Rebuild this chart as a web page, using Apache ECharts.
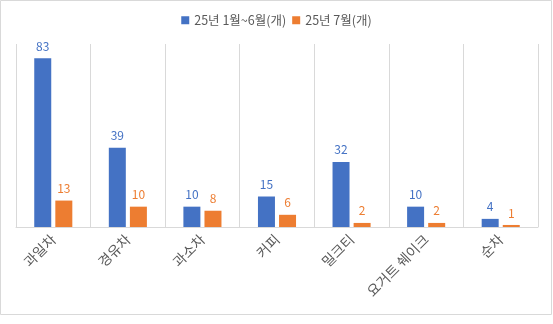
<!DOCTYPE html>
<html><head><meta charset="utf-8">
<script src="https://cdn.jsdelivr.net/npm/echarts@6/dist/echarts.min.js"></script>
<style>html,body{margin:0;padding:0;background:#fff}#c{width:553px;height:324px}</style>
</head><body><div id="c"></div>
<script>
const categories = ['과일차','경유차','과소차','커피','밀크티','요거트 쉐이크','순차'];
const seriesNames = ['25년 1월~6월(개)','25년 7월(개)'];
const valuesH1 = [83,39,10,15,32,10,4];
const valuesJul = [13,10,8,6,2,2,1];
const colors = ['#4472C4','#ED7D31'];
const font = '"Noto Sans CJK KR", "Noto Sans", sans-serif';
const chart = echarts.init(document.getElementById('c'));
chart.setOption({
  animation:false,
  textStyle:{fontFamily:font},
  graphic:[{type:'rect',shape:{x:0.5,y:0.5,width:551,height:314},style:{fill:'none',stroke:'#d9d9d9',lineWidth:1}}],
  legend:{top:9,left:'center',itemWidth:8,itemHeight:8,itemGap:6,icon:'rect',
    textStyle:{color:'#595959',fontSize:12.5,fontFamily:font},data:seriesNames},
  grid:{left:16,right:15,top:44,bottom:97,containLabel:false},
  xAxis:{type:'category',data:categories,boundaryGap:true,
    axisLine:{lineStyle:{color:'#d9d9d9'}},axisTick:{show:false},
    splitLine:{show:true,lineStyle:{color:'#d9d9d9'}},
    axisLabel:{rotate:45,interval:0,color:'#595959',fontSize:14,margin:10,fontFamily:font}},
  yAxis:{type:'value',min:0,max:90,show:false,splitLine:{show:false}},
  series:[
    {name:seriesNames[0],type:'bar',data:valuesH1,barWidth:17,barGap:'24%',itemStyle:{color:colors[0]},
     label:{show:true,position:'top',color:colors[0],fontSize:12,fontFamily:font,distance:6}},
    {name:seriesNames[1],type:'bar',data:valuesJul,barWidth:17,itemStyle:{color:colors[1]},
     label:{show:true,position:'top',color:colors[1],fontSize:12,fontFamily:font,distance:6}}
  ]
});
</script></body></html>
